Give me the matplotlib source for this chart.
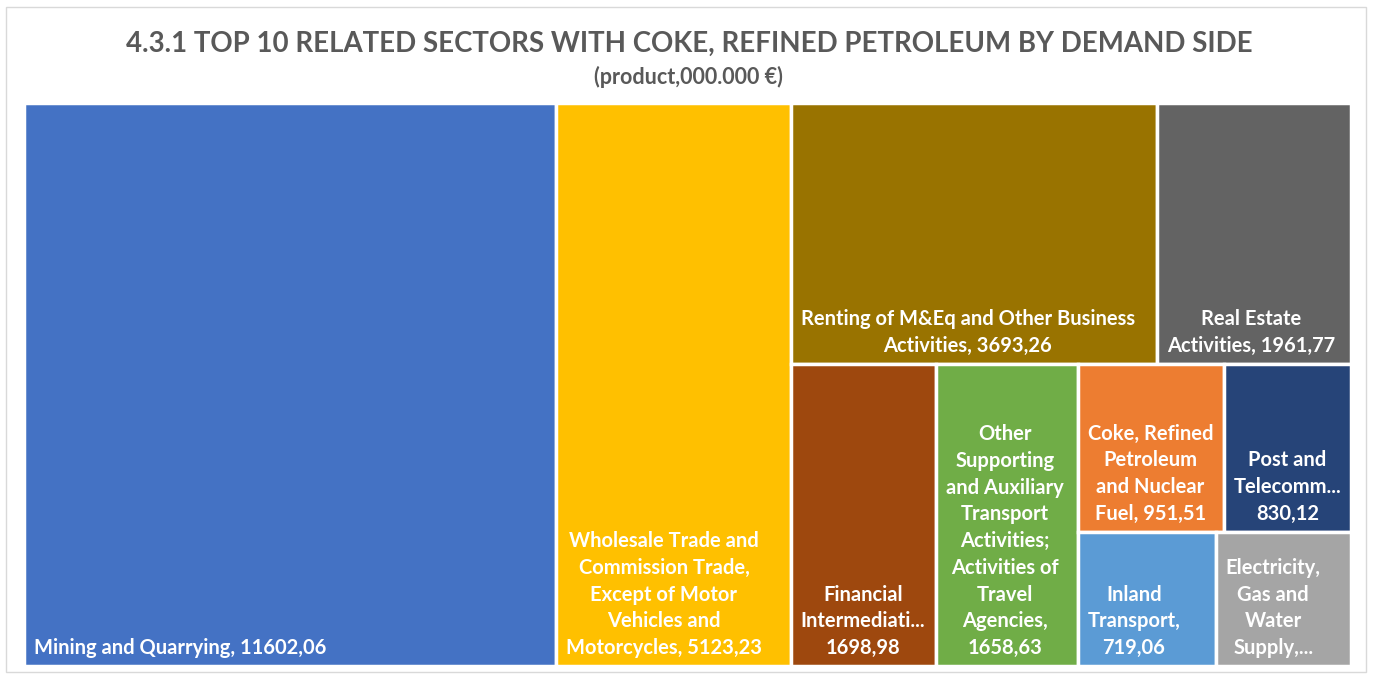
import matplotlib.pyplot as plt
from matplotlib.patches import Rectangle

# data (value of the last sector is hidden, estimated from its area)
sectors = ["Mining and Quarrying",
           "Wholesale Trade and Commission Trade, Except of Motor Vehicles and Motorcycles",
           "Renting of M&Eq and Other Business Activities",
           "Real Estate Activities",
           "Financial Intermediation",
           "Other Supporting and Auxiliary Transport Activities; Activities of Travel Agencies",
           "Coke, Refined Petroleum and Nuclear Fuel",
           "Post and Telecommunications",
           "Inland Transport",
           "Electricity, Gas and Water Supply"]
values = [11602.06, 5123.23, 3693.26, 1961.77, 1698.98, 1658.63, 951.51, 830.12, 719.06, 703.0]
labels = ["Mining and Quarrying, {v}",
          "Wholesale Trade and\nCommission Trade,\nExcept of Motor\nVehicles and\nMotorcycles, {v}",
          "Renting of M&Eq and Other Business\nActivities, {v}",
          "Real Estate\nActivities, {v}",
          "Financial\nIntermediati...\n{v}",
          "Other\nSupporting\nand Auxiliary\nTransport\nActivities;\nActivities of\nTravel\nAgencies,\n{v}",
          "Coke, Refined\nPetroleum\nand Nuclear\nFuel, {v}",
          "Post and\nTelecomm...\n{v}",
          "Inland\nTransport,\n{v}",
          "Electricity,\nGas and\nWater\nSupply,..."]
colors = ["#4472C4", "#FFC000", "#997300", "#636363", "#9E480E",
          "#70AD47", "#ED7D31", "#264478", "#5B9BD5", "#A5A5A5"]

# nesting of the Excel treemap: 'h' = side by side, 'v' = stacked
layout = ("h", [0, 1, ("v", [("h", [2, 3]),
                             ("h", [4, 5, ("v", [("h", [6, 7]),
                                                 ("h", [8, 9])])])])])


def total(node):
    if isinstance(node, int):
        return values[node]
    return sum(total(c) for c in node[1])


def place(node, x, y, w, h, out):
    if isinstance(node, int):
        out[node] = (x, y, w, h)
        return
    kind, kids = node
    s = total(node)
    for k in kids:
        f = total(k) / s
        if kind == "h":
            place(k, x, y, w * f, h, out)
            x += w * f
        else:
            place(k, x, y, w, h * f, out)
            y += h * f


def fmt(v):
    return f"{v:.2f}".replace(".", ",")


W, H = 1373, 677
fig = plt.figure(figsize=(W / 100, H / 100), dpi=100)
ax = fig.add_axes([0, 0, 1, 1])
ax.set_xlim(0, W)
ax.set_ylim(H, 0)
ax.axis("off")

# chart area border
ax.add_patch(Rectangle((6, 7), 1360, 665, fill=False, edgecolor="#D9D9D9", lw=1))

boxes = {}
place(layout, 24, 103, 1327, 563, boxes)

for i, (x, y, w, h) in boxes.items():
    ax.add_patch(Rectangle((x, y), w, h, facecolor=colors[i],
                           edgecolor="white", lw=2.5))
    ax.text(x + 10, y + h - 8, labels[i].format(v=fmt(values[i])),
            ha="left", va="bottom", multialignment="center",
            color="white", fontsize=14.5, fontweight="bold",
            family="Lato", linespacing=1.42)

ax.text(W / 2 + 3, 44, "4.3.1 TOP 10 RELATED SECTORS WITH COKE, REFINED PETROLEUM BY DEMAND SIDE",
        ha="center", va="center", fontsize=19.9, fontweight="bold",
        color="#595959", family="Lato")
ax.text(W / 2 + 2, 77, "(product,000.000 €)", ha="center", va="center",
        fontsize=15.5, fontweight="bold", color="#595959", family="Lato")

fig.savefig("out.png", dpi=100)
